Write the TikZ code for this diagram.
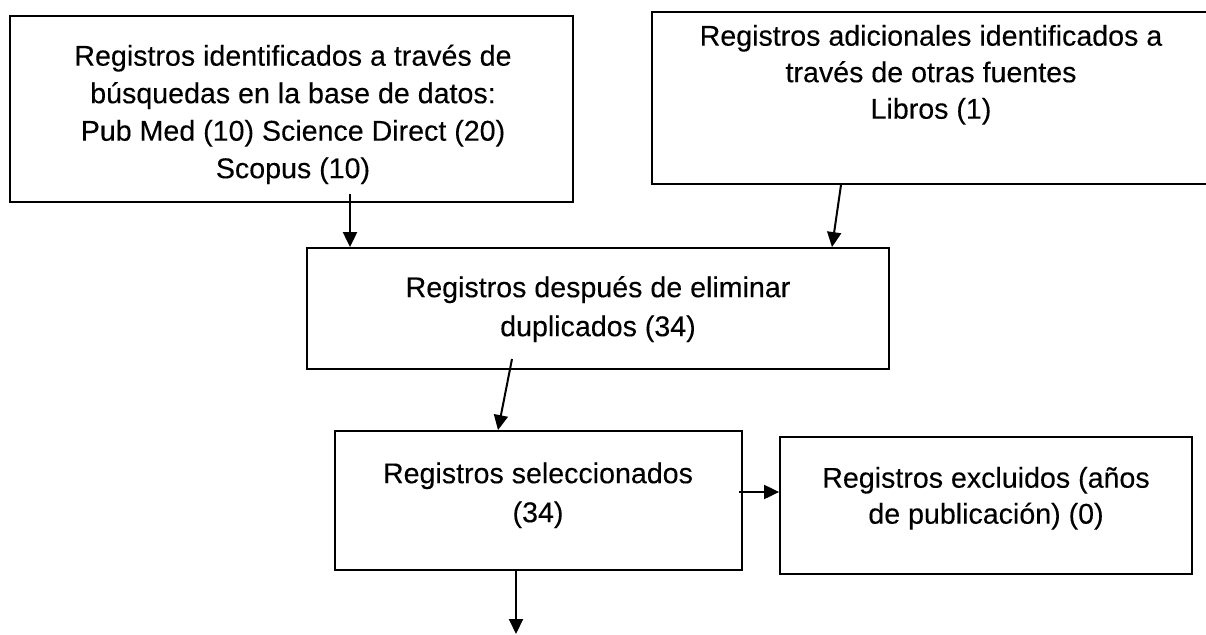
\documentclass[tikz,border=0pt]{standalone}
\usepackage{fontspec}
\newfontfamily\arialx{Liberation Sans}[FakeBold=0.2]
\usetikzlibrary{arrows.meta}
\newcommand{\firstl}{\rule{0pt}{30pt}}
\begin{document}
\begin{tikzpicture}[x=1pt,y=-1pt,
  box/.style={draw=black, line width=1.8pt, rectangle, inner sep=0pt},
  txt/.style={anchor=north, inner sep=0pt, align=center, text=black},
  arr/.style={draw=black, line width=2pt, -{Triangle[length=15pt,width=14pt]}}]
\useasboundingbox (0,0) rectangle (1206,634);
% boxes
\node[box, minimum width=563pt, minimum height=186pt] (b1) at (291.5,109) {};
\node[box, minimum width=558pt, minimum height=172pt] (b2) at (931,98) {};
\node[box, minimum width=582pt, minimum height=121pt] (b3) at (598,308.5) {};
\node[box, minimum width=407pt, minimum height=139pt] (b4) at (538.5,500.5) {};
\node[box, minimum width=412pt, minimum height=137pt] (b5) at (986,505.5) {};
% texts (node north = first baseline - 30)
\node[txt, font=\arialx\fontsize{28.6}{37.5}\selectfont] (t1) at (293,35.5)
  {\firstl Registros identificados a través de\\búsquedas en la base de datos:\\Pub Med (10) Science Direct (20)\\Scopus (10)};
\node[txt, font=\arialx\fontsize{28.6}{36.5}\selectfont] (t2) at (931,15.5)
  {\firstl Registros adicionales identificados a\\través de otras fuentes\\Libros (1)};
\node[txt, font=\arialx\fontsize{28.6}{39}\selectfont] (t3) at (598,267)
  {\firstl Registros después de eliminar\\duplicados (34)};
\node[txt, font=\arialx\fontsize{28.6}{39}\selectfont] (t4) at (538,453)
  {\firstl Registros seleccionados\\(34)};
\node[txt, font=\arialx\fontsize{28.6}{36}\selectfont] (t5) at (986,457.5)
  {\firstl Registros excluidos (años\\de publicación) (0)};
% connector end points
\coordinate (a1s) at (350,194);
\coordinate (a1e) at (350,0 |- b3.north);
\coordinate (a2s) at (841,0 |- b2.south);
\coordinate (a2e) at (832,0 |- b3.north);
\coordinate (a3s) at (512,359);
\coordinate (a3e) at (498,0 |- b4.north);
\coordinate (a4s) at (739,492);
\coordinate (a4e) at (b5.west |- a4s);
\coordinate (a5s) at (516,0 |- b4.south);
\coordinate (a5e) at (516,634);
% connectors
\draw[arr] (a1s) -- (a1e);
\draw[arr] (a2s) -- (a2e);
\draw[arr] (a3s) -- (a3e);
\draw[arr] (a4s) -- (a4e);
\draw[arr] (a5s) -- (a5e);
\end{tikzpicture}
\end{document}
